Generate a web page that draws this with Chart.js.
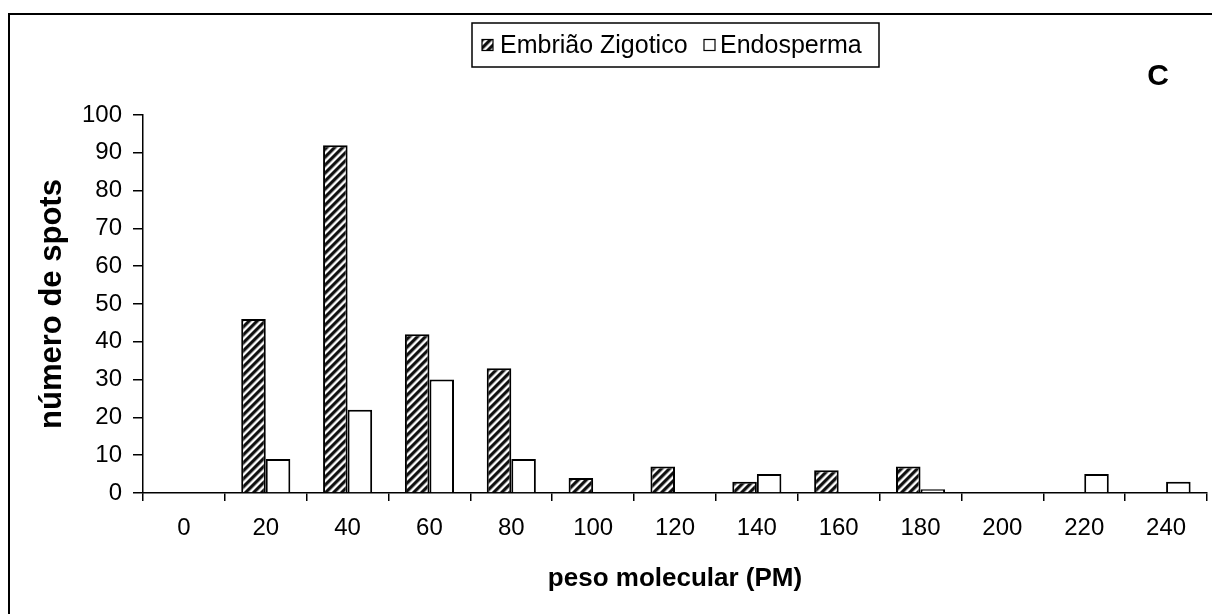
<!DOCTYPE html>
<html>
<head>
<meta charset="utf-8">
<script src="https://cdn.jsdelivr.net/npm/chart.js@4/dist/chart.umd.min.js"></script>
<style>
  html, body { margin: 0; padding: 0; background: #ffffff; }
  #wrap { width: 1212px; height: 614px; position: relative; }
  canvas { display: block; }
</style>
</head>
<body>
<div id="wrap"><canvas id="c" width="1212" height="614"></canvas></div>
<script>
const categories = ['0', '20', '40', '60', '80', '100', '120', '140', '160', '180', '200', '220', '240'];
const embriaoZigotico = [0, 46, 92, 42, 33, 4, 7, 3, 6, 7, 0, 0, 0];
const endosperma = [0, 9, 22, 30, 9, 0, 0, 5, 0, 1, 0, 5, 3];
const seriesNames = ['Embrião Zigotico', 'Endosperma'];
const yTicks = [0, 10, 20, 30, 40, 50, 60, 70, 80, 90, 100];
const xTitle = 'peso molecular (PM)';
const yTitle = 'número de spots';
const panelLabel = 'C';

const FONT = '"Liberation Sans", Arial, Helvetica, sans-serif';

function makeHatch() {
  const size = 8;
  const pc = document.createElement('canvas');
  pc.width = size; pc.height = size;
  const pctx = pc.getContext('2d');
  const img = pctx.createImageData(size, size);
  for (let y = 0; y < size; y++) {
    for (let x = 0; x < size; x++) {
      const k = (x + y) % size;
      let v;
      if (k < 3) v = 15;
      else if (k === 3) v = 90;
      else if (k === 4) v = 190;
      else if (k < 7) v = 250;
      else v = 120;
      const i = (y * size + x) * 4;
      img.data[i] = v; img.data[i + 1] = v; img.data[i + 2] = v; img.data[i + 3] = 255;
    }
  }
  pctx.putImageData(img, 0, 0);
  return pctx.createPattern(pc, 'repeat');
}

const ctx = document.getElementById('c').getContext('2d');
const hatch = makeHatch();

const framePlugin = {
  id: 'framePlugin',
  afterDraw(chart) {
    const c = chart.ctx;
    c.save();
    // outer frame (left & top visible)
    c.strokeStyle = '#000';
    c.lineWidth = 2;
    c.beginPath();
    c.moveTo(9, 620);
    c.lineTo(9, 14);
    c.lineTo(1220, 14);
    c.stroke();

    // legend box
    const bx = 472, by = 23, bw = 407, bh = 44;
    c.fillStyle = '#fff';
    c.fillRect(bx, by, bw, bh);
    c.lineWidth = 1.5;
    c.strokeRect(bx, by, bw, bh);
    const ds = chart.data.datasets;
    const cy = by + bh / 2;
    c.font = '25px ' + FONT;
    c.textBaseline = 'middle';
    c.textAlign = 'left';
    // item 1
    c.fillStyle = ds[0].backgroundColor;
    c.fillRect(482, cy - 5.5, 11, 11);
    c.lineWidth = 1.2;
    c.strokeStyle = '#000';
    c.strokeRect(482, cy - 5.5, 11, 11);
    c.fillStyle = '#000';
    c.fillText(ds[0].label, 500, cy + 1);
    // item 2
    c.fillStyle = '#fff';
    c.fillRect(704, cy - 5.5, 11, 11);
    c.strokeRect(704, cy - 5.5, 11, 11);
    c.fillStyle = '#000';
    c.fillText(ds[1].label, 720, cy + 1);

    // panel label
    c.font = 'bold 30px ' + FONT;
    c.textAlign = 'center';
    c.fillText(panelLabel, 1158, 77);
    c.restore();
  }
};

new Chart(ctx, {
  type: 'bar',
  data: {
    labels: categories,
    datasets: [
      {
        label: seriesNames[0],
        data: embriaoZigotico,
        backgroundColor: hatch,
        borderColor: '#000',
        borderWidth: 2,
        borderSkipped: 'bottom'
      },
      {
        label: seriesNames[1],
        data: endosperma,
        backgroundColor: '#ffffff',
        borderColor: '#000',
        borderWidth: 2,
        borderSkipped: 'bottom'
      }
    ]
  },
  options: {
    responsive: false,
    animation: false,
    devicePixelRatio: 1,
    layout: { padding: { left: 0, top: 115, right: 5, bottom: 0 } },
    datasets: { bar: { categoryPercentage: 0.6, barPercentage: 1.0 } },
    plugins: {
      legend: { display: false },
      tooltip: { enabled: false },
      title: { display: false }
    },
    scales: {
      x: {
        type: 'category',
        offset: true,
        afterFit(scale) { scale.height = 121; },
        grid: {
          display: true,
          offset: true,
          drawOnChartArea: false,
          drawTicks: true,
          tickLength: 8,
          color: '#000',
          lineWidth: 1.5
        },
        border: { display: true, color: '#000', width: 1.5 },
        ticks: {
          color: '#000',
          font: { family: FONT, size: 24 },
          padding: 13,
          maxRotation: 0,
          autoSkip: false
        },
        title: {
          display: true,
          text: xTitle,
          color: '#000',
          font: { family: FONT, size: 26, weight: 'bold' },
          padding: { top: 0, bottom: 20 }
        }
      },
      y: {
        min: 0,
        max: 100,
        afterFit(scale) { scale.width = 143; },
        afterBuildTicks(scale) { scale.ticks = yTicks.map(v => ({ value: v })); },
        grid: {
          display: true,
          drawOnChartArea: false,
          drawTicks: true,
          tickLength: 10,
          color: '#000',
          lineWidth: 1.5
        },
        border: { display: true, color: '#000', width: 1.5 },
        ticks: {
          color: '#000',
          font: { family: FONT, size: 24 },
          padding: 11
        },
        title: {
          display: true,
          text: yTitle,
          color: '#000',
          font: { family: FONT, size: 31, weight: 'bold' },
          padding: { top: 34, bottom: 0 }
        }
      }
    }
  },
  plugins: [framePlugin]
});
</script>
</body>
</html>
